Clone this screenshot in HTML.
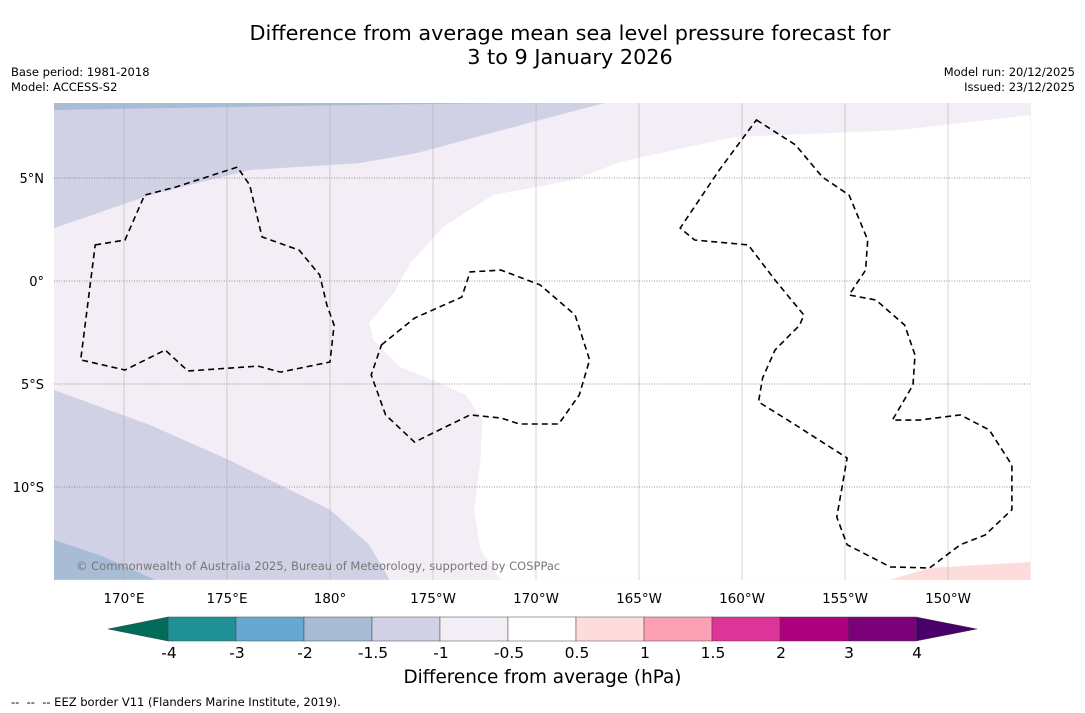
<!DOCTYPE html>
<html><head><meta charset="utf-8"><style>
body{margin:0;background:#fff;font-family:"DejaVu Sans","Liberation Sans",sans-serif;}
#wrap{position:relative;width:1085px;height:713px;overflow:hidden;}
.t{position:absolute;white-space:nowrap;}
</style></head><body>
<div id="wrap">
<div class="t" style="left:0;width:1140px;text-align:center;top:21px;font-size:20.8px;line-height:24px;">Difference from average mean sea level pressure forecast for<br>3 to 9 January 2026</div>
<div class="t" style="left:11px;top:65px;font-size:11.5px;line-height:15px;">Base period: 1981-2018<br>Model: ACCESS-S2</div>
<div class="t" style="right:10px;top:65px;font-size:11.5px;line-height:15px;text-align:right;">Model run: 20/12/2025<br>Issued: 23/12/2025</div>
<svg id="svg" width="1085" height="713" style="position:absolute;left:0;top:0"></svg>
<div class="t" style="left:0;width:1085px;text-align:center;top:667px;font-size:18.4px;">Difference from average (hPa)</div>
<div class="t" style="left:11px;top:695px;font-size:11.5px;">--&nbsp; --&nbsp; -- EEZ border V11 (Flanders Marine Institute, 2019).</div>
</div>
<script>
const lonTicks=[170,175,180,185,190,195,200,205,210];
const lonLabels=["170°E","175°E","180°","175°W","170°W","165°W","160°W","155°W","150°W"];
const latTicks=[5,0,-5,-10];
const latLabels=["5°N","0°","5°S","10°S"];
const cbLevels=["-4","-3","-2","-1.5","-1","-0.5","0.5","1","1.5","2","3","4"];
const cbColors=["#1f9196","#66a8d0","#a8bcd6","#d0d1e5","#f3edf5","#ffffff","#fedcdb","#fba0b5","#dd3497","#ae017e","#7a0177"];
const region15Top=[[166.6,8.64],[166.6,2.57],[171.26,4.17],[176.1,5.39],[181.46,5.73],[184.2,6.21],[190.2,7.82],[193.35,8.64]];
const region2Top=[[166.6,8.64],[166.6,8.3],[178.5,8.5],[188.3,8.64]];
const regionWhite=[[214,8.06],[207.7,7.33],[199.6,6.99],[194.1,5.78],[191.8,4.9],[187.9,4.17],[185.5,2.62],[183.9,0.87],[183.1,-0.58],[181.9,-2.04],[182.1,-2.86],[183.4,-4.17],[185.2,-4.9],[186.6,-5.53],[187.4,-6.75],[187.3,-8.69],[187.0,-11.1],[187.3,-13.06],[188.3,-14.5],[214,-14.5]];
const regionPink=[[207.2,-14.5],[209.1,-13.93],[214,-13.64],[214,-14.5]];
const region15Bot=[[166.6,-5.29],[171.26,-6.99],[175.1,-8.69],[180,-11.1],[181.9,-12.8],[182.9,-14.5],[166.6,-14.5]];
const region2Bot=[[166.6,-12.57],[168.8,-13.3],[171.5,-14.5],[166.6,-14.5]];
const eezA=[[168.6,1.75],[170.05,1.99],[171.0,4.17],[172.5,4.56],[175.5,5.53],[176.1,4.66],[176.7,2.14],[178.5,1.5],[179.5,0.29],[179.85,-1.17],[180.2,-2.14],[180,-3.93],[177.6,-4.42],[176.5,-4.13],[173.1,-4.37],[172.0,-3.35],[170.05,-4.32],[167.9,-3.83]];
const eezB=[[182.5,-3.1],[184.1,-1.8],[186.4,-0.78],[186.8,0.44],[188.3,0.53],[190.2,-0.19],[191.9,-1.65],[192.6,-3.83],[192.1,-5.53],[191.1,-6.94],[189.2,-6.94],[188.3,-6.65],[186.8,-6.5],[184.1,-7.82],[182.7,-6.5],[182.0,-4.56]];
const eezC=[[200.7,7.82],[202.6,6.6],[203.9,5.05],[205.2,4.17],[206.1,1.99],[206.0,0.53],[205.2,-0.68],[206.5,-0.92],[207.9,-2.14],[208.4,-3.59],[208.3,-5.05],[207.3,-6.75],[208.6,-6.75],[210.6,-6.5],[212.0,-7.23],[213.1,-8.93],[213.1,-11.1],[211.8,-12.33],[210.6,-12.8],[209.1,-13.93],[207.2,-13.88],[205.1,-12.8],[204.6,-11.46],[205.1,-8.59],[202.6,-6.99],[200.8,-5.87],[201.0,-4.71],[201.6,-3.35],[202.8,-2.14],[203.0,-1.65],[201.6,0.05],[200.3,1.75],[197.7,1.99],[197.0,2.57],[198.9,5.39]];

const L=54,R=1031,T=103,B=580;
const X=lon=>124+(lon-170)*20.6;
const Y=lat=>281-lat*20.6;
const ns="http://www.w3.org/2000/svg";
const svg=document.getElementById('svg');
function mk(tag,at,parent){const e=document.createElementNS(ns,tag);for(const k in at)e.setAttribute(k,at[k]);(parent||svg).appendChild(e);return e;}
const pts=a=>a.map(p=>X(p[0]).toFixed(1)+','+Y(p[1]).toFixed(1)).join(' ');
const defs=mk('defs',{});const cp=mk('clipPath',{id:'cp'},defs);mk('rect',{x:L,y:T,width:R-L,height:B-T},cp);
const g=mk('g',{'clip-path':'url(#cp)'});
let bg=mk('rect',{x:L,y:T,width:R-L,height:B-T,fill:'#f3edf5'},g);

const fills=[[region15Top,'#d0d1e5','region-minus1-5-north'],[region2Top,'#a8bcd6','region-minus2-north'],[regionWhite,'#ffffff','region-neutral'],[regionPink,'#fedcdb','region-plus0-5'],[region15Bot,'#d0d1e5','region-minus1-5-south'],[region2Bot,'#a8bcd6','region-minus2-south']];
fills.forEach(f=>{const p=mk('polygon',{points:pts(f[0]),fill:f[1]},g);

});
lonTicks.forEach((v,i)=>{const l=mk('line',{x1:X(v),x2:X(v),y1:T,y2:B,stroke:'#aaa','stroke-width':0.5},g);


const t=mk('text',{x:X(v),y:603,'text-anchor':'middle','font-size':13.5,fill:'#000'});t.textContent=lonLabels[i];

});
latTicks.forEach((v,i)=>{const l=mk('line',{x1:L,x2:R,y1:Y(v),y2:Y(v),stroke:'#777','stroke-width':0.7,'stroke-dasharray':'1,1.5'},g);


const t=mk('text',{x:44,y:Y(v)+5,'text-anchor':'end','font-size':13,fill:'#000'});t.textContent=latLabels[i];

});
[[eezA,'eez-kiribati-gilbert'],[eezB,'eez-central'],[eezC,'eez-line-islands']].forEach(e=>{const p=mk('polygon',{points:pts(e[0]),fill:'none',stroke:'#000','stroke-width':1.6,'stroke-dasharray':'6,4'},g);

});
const cr=mk('text',{x:76,y:570,'font-size':11.5,fill:'#777'},g);cr.textContent='© Commonwealth of Australia 2025, Bureau of Meteorology, supported by COSPPac';


const cbL=168,cbW=68,cbT=617,cbH=24;
const cbX=i=>cbL+i*cbW;
cbColors.forEach((c,i)=>{const r=mk('rect',{x:cbX(i),y:cbT,width:cbW,height:cbH,fill:c,stroke:'#444','stroke-width':0.5});

});
const endL=mk('polygon',{points:`${cbX(0)},${cbT} ${cbX(0)},${cbT+cbH} 108,${cbT+cbH/2}`,fill:'#016c59',stroke:'#444','stroke-width':0.5});

const n=cbColors.length;
const endR=mk('polygon',{points:`${cbX(n)},${cbT} ${cbX(n)},${cbT+cbH} 977,${cbT+cbH/2}`,fill:'#49006a',stroke:'#444','stroke-width':0.5});

cbLevels.forEach((v,i)=>{const t=mk('text',{x:cbX(i)+1,y:658,'text-anchor':'middle','font-size':15.5,fill:'#000'});t.textContent=v;

});
</script>
</body></html>
